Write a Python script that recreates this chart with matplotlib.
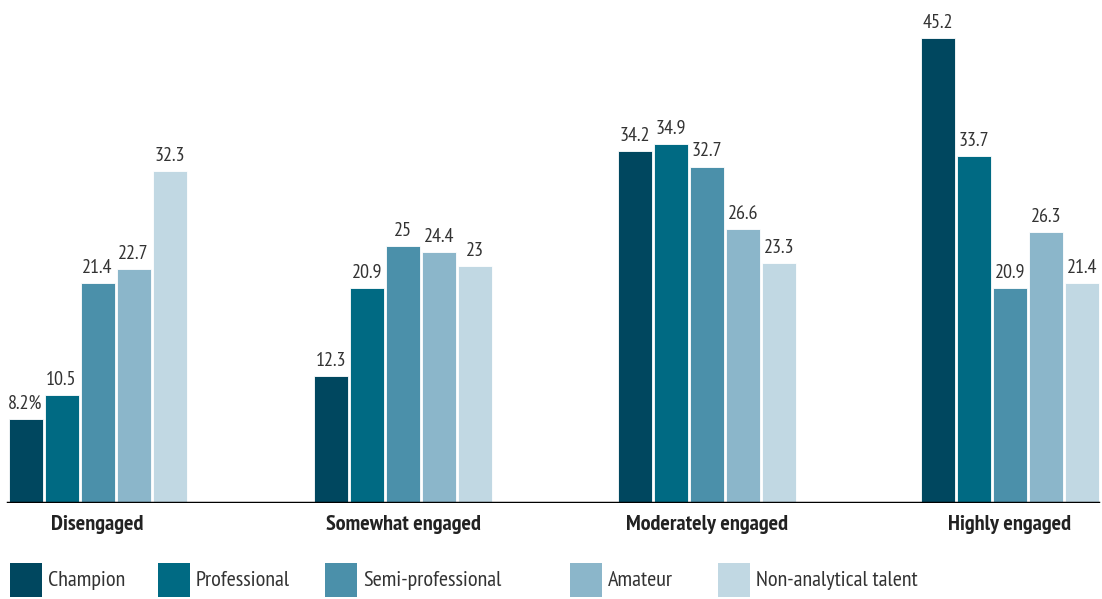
import matplotlib
matplotlib.use("Agg")
import matplotlib.pyplot as plt
from matplotlib.patches import Rectangle

plt.rcParams['font.family'] = ['PT Sans Narrow', 'DejaVu Sans']

categories = ["Disengaged", "Somewhat engaged", "Moderately engaged", "Highly engaged"]
series = ["Champion", "Professional", "Semi-professional", "Amateur", "Non-analytical talent"]
champion = [8.2, 12.3, 34.2, 45.2]
professional = [10.5, 20.9, 34.9, 33.7]
semi_professional = [21.4, 25, 32.7, 20.9]
amateur = [22.7, 24.4, 26.6, 26.3]
non_analytical = [32.3, 23, 23.3, 21.4]
values = [champion, professional, semi_professional, amateur, non_analytical]
colors = ["#00475f", "#006a83", "#4b90aa", "#8bb6ca", "#c1d8e3"]

W, H = 1102, 599
fig = plt.figure(figsize=(W / 100, H / 100), dpi=100)
ax = fig.add_axes([0, 96 / H, 1, 503 / H])

group_x = [97.5, 403, 707, 1010]
step, width = 36, 34
txt = "#333333"

for j, (name, vals, c) in enumerate(zip(series, values, colors)):
    xs = [g + (j - 2) * step for g in group_x]
    ax.bar(xs, vals, width=width, color=c, edgecolor="white", linewidth=0.6)
    for i, (x, v) in enumerate(zip(xs, vals)):
        lab = f"{v:g}"
        if j == 0 and i == 0:
            lab += "%"
        ax.text(x, v + 0.6, lab, ha="center", va="bottom", fontsize=14.5, color=txt)

ax.set_xlim(0, W)
ax.set_ylim(0, 45.2 * 503 / 465)
ax.axhline(0, xmin=8 / W, xmax=1098 / W, color="black", linewidth=2.5)
for s in ax.spines.values():
    s.set_visible(False)
ax.set_xticks([])
ax.set_yticks([])

# category names under each group
for g, cat in zip(group_x, categories):
    fig.text(g / W, 1 - 525 / H, cat, ha="center", va="center", fontsize=16,
             fontweight="bold", color="#222222")

# legend row along the bottom
leg_x = [10, 158, 325, 570, 718]
for x, name, c in zip(leg_x, series, colors):
    fig.add_artist(Rectangle((x / W, 1 - 597 / H), 32 / W, 34 / H, transform=fig.transFigure,
                             facecolor=c, edgecolor="none"))
    fig.text((x + 38) / W, 1 - 581 / H, name, ha="left", va="center", fontsize=16, color=txt)

fig.savefig("out.png", dpi=100)
